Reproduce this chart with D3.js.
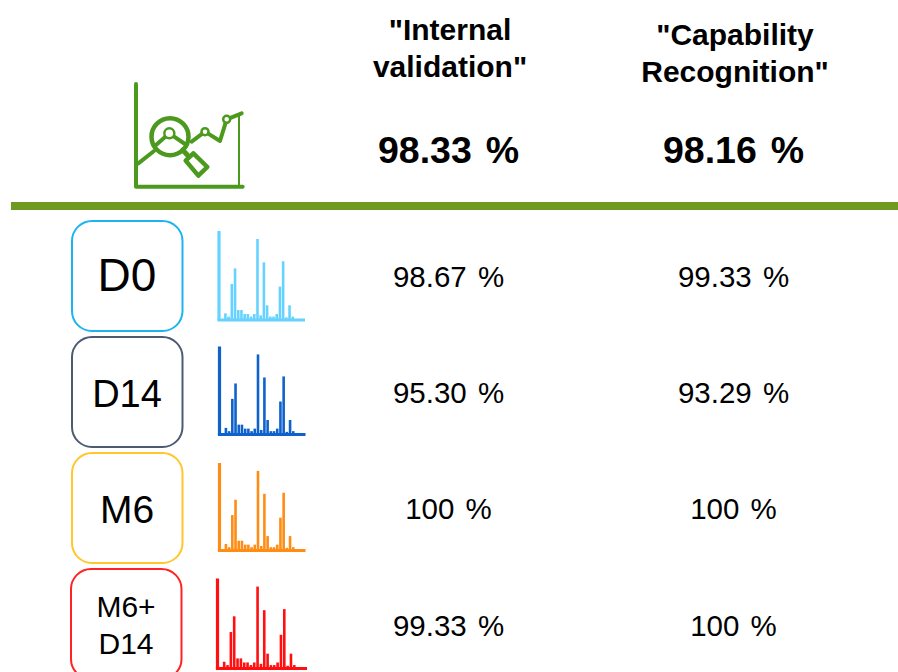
<!DOCTYPE html>
<html>
<head>
<meta charset="utf-8">
<script src="https://cdn.jsdelivr.net/npm/d3@7/dist/d3.min.js"></script>
<style>
html,body{margin:0;padding:0;background:#fff;}
svg{display:block;}
text{font-family:"Liberation Sans",Arial,sans-serif;fill:#000;}
</style>
</head>
<body>
<svg id="chart" width="898" height="672"></svg>
<script>
// Summary table of recognition rates per group
const groups = ["D0", "D14", "M6", "M6+\nD14"];
const internalValidation = ["98.67 %", "95.30 %", "100 %", "99.33 %"];
const capabilityRecognition = ["99.33 %", "93.29 %", "100 %", "100 %"];
const overallHeaders = [["\"Internal", "validation\""], ["\"Capability", "Recognition\""]];
const overallValues = ["98.33 %", "98.16 %"];

// Relative peak intensities of the mass spectrum, first peak = 100
const peaks = [100, 0, 7.5, 3.8, 40.5, 58, 11.2, 11.2, 6.7, 6.7, 3.8, 6.7, 91, 5.2, 64.8, 16.5, 3.8, 3.8, 6.7, 37.5, 66, 3, 16.5, 3.8];
const groupColors = ["#1cb4f0", "#4e5a72", "#ffc72c", "#ff2424"];
const spectrumColors = ["#66d2ff", "#0f62cc", "#ff8c14", "#ff0f0f"];

const svg = d3.select("#chart");
const boxTop = d3.scaleOrdinal().domain(groups).range([221, 337, 453, 569]);
const boxLeft = d3.scaleOrdinal().domain(groups).range([72, 72, 72, 71]);
const colX = d3.scaleOrdinal().domain([0, 1]).range([448.5, 733.5]);

// Rule under the header
svg.append("rect").attr("x", 11).attr("y", 202).attr("width", 887).attr("height", 8).attr("fill", "#6f9a22");

// Header columns
overallHeaders.forEach((lines, i) => {
  const ys = i === 0 ? [40, 77] : [45, 82];
  lines.forEach((t, j) => {
    svg.append("text").attr("x", colX(i) + 1.5).attr("y", ys[j]).attr("text-anchor", "middle")
      .attr("font-size", 30).attr("font-weight", "bold").text(t);
  });
  svg.append("text").attr("x", colX(i)).attr("y", 163).attr("text-anchor", "middle")
    .attr("font-size", 37.5).attr("font-weight", "bold").attr("word-spacing", 3.5).text(overallValues[i]);
});

// Analytics icon: axes, trend line, magnifier
const ix = d3.scaleLinear().domain([0, 420]).range([120, 260]);
const iy = d3.scaleLinear().domain([0, 390]).range([70, 200]);
const iconLine = d3.line().x(d => ix(d[0])).y(d => iy(d[1]));
const icon = svg.append("g").attr("fill", "none").attr("stroke", "#4b9a1e")
  .attr("stroke-linecap", "round").attr("stroke-linejoin", "round");
icon.append("path").attr("stroke-width", 4).attr("d", iconLine([[48, 42], [48, 350], [368, 350]]));
icon.append("path").attr("stroke-width", 2).attr("d", iconLine([[357, 135], [357, 350]]));
icon.append("path").attr("stroke-width", 4).attr("d", iconLine([[55, 280], [102, 243]]));
icon.append("path").attr("stroke-width", 4).attr("d", iconLine([[108, 225], [148, 190], [195, 222]]));
icon.append("path").attr("stroke-width", 4).attr("d", iconLine([[215, 215], [255, 185], [300, 213], [320, 148], [365, 130]]));
icon.append("circle").attr("cx", ix(150)).attr("cy", iy(200)).attr("r", 18.5).attr("stroke-width", 4.5);
[[148, 190, 5], [255, 185, 3.5], [320, 148, 3.5]].forEach(c => {
  icon.append("circle").attr("cx", ix(c[0])).attr("cy", iy(c[1])).attr("r", c[2])
    .attr("fill", "#fff").attr("stroke-width", 2.5);
});
icon.append("path").attr("stroke-width", 5).attr("d", iconLine([[188, 240], [205, 258]]));
icon.append("path").attr("stroke-width", 4.5).attr("d", iconLine([[220, 250], [197, 272], [235, 317], [262, 291], [220, 250]]));

// One row per group: badge, spectrum, two rates
const spectrumBase = [320, 434.5, 550.5, 668.5];
const spectrumLeft = [219, 219.5, 219.5, 217.5];
const spectrumRight = [304, 304.5, 304.5, 306];
const spectrumHeight = [89, 88, 87.5, 90];
const rateBaseline = [287, 403, 519, 636];

groups.forEach((g, i) => {
  const top = boxTop(g), left = boxLeft(g);
  svg.append("rect").attr("x", left).attr("y", top).attr("width", 110.5).attr("height", 110)
    .attr("rx", 20).attr("fill", "#fff").attr("stroke", groupColors[i]).attr("stroke-width", 2);

  const lines = g.split("\n");
  if (lines.length === 1) {
    svg.append("text").attr("x", left + 55).attr("y", top + 70).attr("text-anchor", "middle")
      .attr("font-size", g === "D0" ? 46 : g === "M6" ? 39 : 38).text(g);
  } else {
    lines.forEach((t, j) => svg.append("text").attr("x", left + 55).attr("y", top + 48 + j * 37)
      .attr("text-anchor", "middle").attr("font-size", 30).text(t));
  }

  const x = d3.scaleLinear().domain([0, 26.5]).range([spectrumLeft[i], spectrumRight[i]]);
  const y = d3.scaleLinear().domain([0, 100]).range([spectrumBase[i], spectrumBase[i] - spectrumHeight[i]]);
  const sp = svg.append("g").attr("stroke", spectrumColors[i]);
  sp.selectAll("line.peak")
    .data(peaks.map((v, k) => ({ v, k })).filter(d => d.v > 0))
    .join("line").attr("class", "peak")
    .attr("x1", d => x(d.k)).attr("x2", d => x(d.k))
    .attr("y1", y(0)).attr("y2", d => y(d.v))
    .attr("stroke-width", d => d.k === 0 ? 3.2 : 2.6);
  sp.append("line").attr("x1", x(0) - 1.6).attr("x2", spectrumRight[i] + 1).attr("y1", y(0)).attr("y2", y(0))
    .attr("stroke-width", 3);

  [internalValidation[i], capabilityRecognition[i]].forEach((t, c) => {
    svg.append("text").attr("x", colX(c)).attr("y", rateBaseline[i]).attr("text-anchor", "middle")
      .attr("font-size", 29.5).attr("word-spacing", 3).text(t);
  });
});
</script>
</body>
</html>
